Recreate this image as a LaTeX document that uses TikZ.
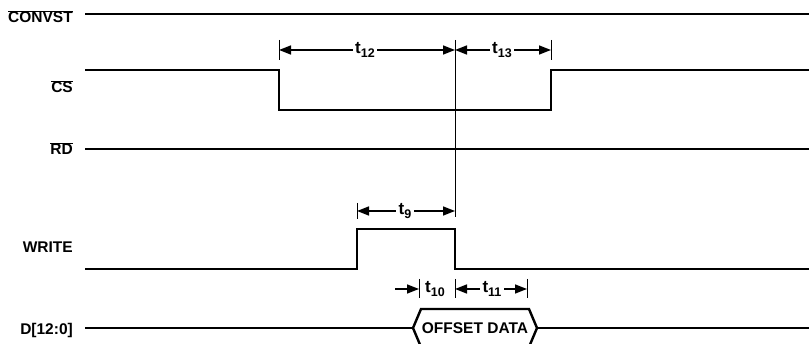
\documentclass[tikz,border=0pt]{standalone}
\usepackage{fontspec}
\setmainfont{Liberation Sans}
\usetikzlibrary{arrows.meta,positioning}

\tikzset{
  sig/.style={line width=2.4pt},
  tickline/.style={line width=0.9pt},
  dim/.style={line width=1.5pt,-{Triangle[length=12pt,width=9pt]}},
  lbl/.style={font=\fontsize{15.5}{18}\selectfont\bfseries,anchor=base east,inner sep=0pt},
  tlbl/.style={font=\fontsize{17}{20}\selectfont\bfseries,inner sep=2.5pt},
}
\newcommand{\tsub}[1]{t\raisebox{-0.45ex}{\fontsize{12.5}{13}\selectfont #1}}

\begin{document}
\begin{tikzpicture}[x=1pt,y=-1pt]
\useasboundingbox (0,0) rectangle (809,344);
\node[lbl] (convst) at (73,23) {$\overline{\hbox{CONVST}}$};
\node[lbl] (cs) at (73,93) {$\overline{\hbox{CS}}$};
\node[lbl] (rd) at (73,155) {$\overline{\hbox{RD}}$};
\node[lbl] (write) at (73,253) {WRITE};
\node[lbl] (dbus) at (73,335) {D[12:0]};
\coordinate (cv0) at (85,14);
\coordinate (cv1) at (809,14);
\draw[sig] (cv0) -- (cv1);
\coordinate (cs0) at (85,70);
\coordinate (cs1) at (279,70);
\coordinate (cs2) at (279,110);
\coordinate (cs3) at (551,110);
\coordinate (cs4) at (551,70);
\coordinate (cs5) at (809,70);
\draw[sig] (cs0) -- (cs1) -- (cs2) -- (cs3) -- (cs4) -- (cs5);
\coordinate (rd0) at (85,149);
\coordinate (rd1) at (809,149);
\draw[sig] (rd0) -- (rd1);
\coordinate (wr0) at (85,269);
\coordinate (wr1) at (357,269);
\coordinate (wr2) at (357,229);
\coordinate (wr3) at (455,229);
\coordinate (wr4) at (455,269);
\coordinate (wr5) at (809,269);
\draw[sig] (wr0) -- (wr1) -- (wr2) -- (wr3) -- (wr4) -- (wr5);
\coordinate (d0) at (85,328);
\coordinate (h1) at (413,328);
\coordinate (h2) at (421,309);
\coordinate (h3) at (529,309);
\coordinate (h4) at (537,328);
\coordinate (h5) at (529,347);
\coordinate (h6) at (421,347);
\coordinate (d1) at (809,328);
\draw[sig] (d0) -- (h1);
\draw[sig] (h1) -- (h2) -- (h3) -- (h4) -- (h5) -- (h6) -- cycle;
\draw[sig] (h4) -- (d1);
\node[font=\fontsize{15.5}{18}\selectfont\bfseries] (data) at (475,328) {OFFSET DATA};
\coordinate (k12) at (279,50);
\coordinate (kmid) at (455,50);
\coordinate (k13) at (551,50);
\coordinate (k9) at (357,211);
\coordinate (k10) at (419,289);
\coordinate (k11) at (527,289);
\coordinate (kw) at (455,289);
\draw[tickline] (455,40) -- (455,217);
\draw[tickline] (279,40) -- (279,60);
\draw[tickline] (551,40) -- (551,60);
\draw[tickline] (357,203) -- (357,219);
\draw[tickline] (419,279) -- (419,298);
\draw[tickline] (455,279) -- (455,298);
\draw[tickline] (527,279) -- (527,298);
\node[tlbl] (t12) at (365,50) {\tsub{12}};
\draw[dim] (t12.west) -- (t12.west -| k12);
\draw[dim] (t12.east) -- (t12.east -| kmid);
\node[tlbl] (t13) at (502,50) {\tsub{13}};
\draw[dim] (t13.west) -- (t13.west -| kmid);
\draw[dim] (t13.east) -- (t13.east -| k13);
\node[tlbl] (t9) at (405,211) {\tsub{9}};
\draw[dim] (t9.west) -- (t9.west -| k9);
\draw[dim] (t9.east) -- (t9.east -| kmid);
\node[tlbl] (t10) at (435,289) {\tsub{10}};
\coordinate (a10) at (395,289);
\draw[dim] (a10) -- (a10 -| k10);
\node[tlbl] (t11) at (492,289) {\tsub{11}};
\draw[dim] (t11.west) -- (t11.west -| kw);
\draw[dim] (t11.east) -- (t11.east -| k11);
\end{tikzpicture}
\end{document}
